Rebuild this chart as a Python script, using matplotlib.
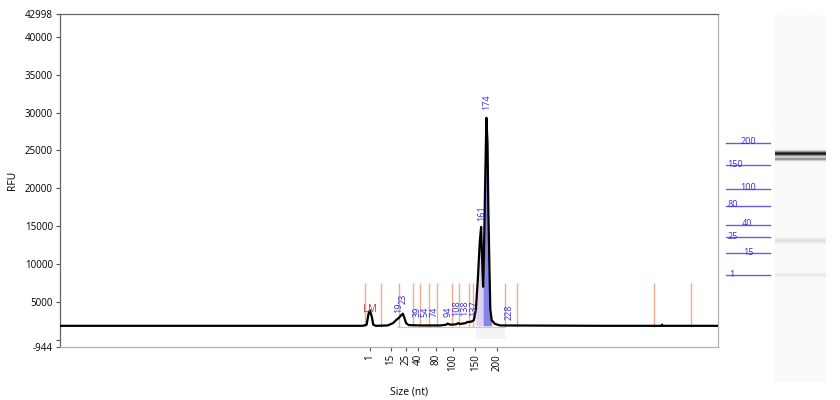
import numpy as np
import matplotlib
matplotlib.use("Agg")
import matplotlib.pyplot as plt

plt.rcParams['font.family'] = ['Open Sans', 'DejaVu Sans']

# ---- data (x = migration position, arbitrary units 0..100) ----
trace_x = [0.15, 46.0, 46.6, 46.9, 47.1, 47.4, 47.6, 48.0, 49.8, 50.6, 51.2, 51.5,
           51.8, 52.1, 52.3, 52.6, 53.0, 54.7, 57.8, 58.7, 58.9, 59.3, 60.2, 60.5,
           60.8, 61.6, 61.9, 62.5, 62.9, 63.2, 63.5, 63.8, 64.0, 64.1, 64.3, 64.4,
           64.6, 64.8, 64.97, 65.1, 65.3, 65.4, 65.6, 66.1, 66.9, 82.4, 91.4, 91.5,
           91.6, 100.0]
trace_y = [1850, 1850, 2000, 3500, 3900, 3000, 2000, 1850, 1900, 2200, 2700, 2900,
           3200, 3450, 3000, 2200, 1950, 1900, 1900, 2000, 2150, 2000, 2050, 2200,
           2100, 2200, 2350, 2400, 2600, 4000, 8000, 13000, 14900, 12000, 7000, 10000,
           20000, 29300, 26000, 17000, 8000, 4000, 2600, 2100, 1900, 1850, 1850, 2000,
           1850, 1850]

ladder_sizes = ['1', '15', '25', '40', '80', '100', '150', '200']
ladder_pos = [47.1, 50.3, 52.6, 54.4, 57.2, 59.7, 63.1, 66.4]

marker_lines = [46.35, 48.74, 51.47, 53.65, 54.71, 56.08, 57.25, 59.57, 60.64,
                62.11, 62.77, 67.63, 69.45, 90.27, 95.90]

peak_labels = ['19', '23', '39', '54', '74', '94', '108', '138', '137', '161', '174', '228']
peak_x = [51.45, 52.1, 54.26, 55.5, 56.85, 58.9, 60.3, 61.5, 62.8, 64.15, 64.9, 68.25]
peak_label_y = [3540, 4700, 3015, 3015, 3015, 3015, 3150, 3150, 3150, 15700, 30300, 2620]

lm_x, lm_y = 47.1, 4070

y_ticks = [42998, 40000, 35000, 30000, 25000, 20000, 15000, 10000, 5000, 0, -944]
y_tick_labels = ['42998', '40000', '35000', '30000', '25000', '20000', '15000',
                 '10000', '5000', '', '-944']

# gel bands: position (migration units), darkness (0..1), width
band_pos = [64.8, 64.0, 52.1, 47.1]
band_dark = [0.92, 0.45, 0.10, 0.08]
band_width = [0.22, 0.15, 0.25, 0.15]

# ---- figure ----
fig = plt.figure(figsize=(8.4, 4.0), dpi=100)
ax = fig.add_axes([60 / 840, 1 - 347 / 400, 658 / 840, 333 / 400])

tx = np.array(trace_x)
ty = np.array(trace_y)

# marker lines
ax.vlines(marker_lines, 1700, 7500, colors='#f2a98a', lw=1.0, zorder=1)
ax.hlines(1750, 51.2, 67.63, colors='#f5b8a8', lw=0.8, zorder=1)

# faint region under main peak
ax.fill_between([63.2, 67.63], -944 + 1000, 1750, color='#f4f4f6', zorder=0, lw=0)

# peak shading
m1 = (tx >= 63.2) & (tx <= 64.3)
ax.fill_between(tx[m1], 1850, ty[m1], color='#dcc6ee', alpha=0.8, lw=0, zorder=2)
m2 = (tx >= 64.3) & (tx <= 65.6)
ax.fill_between(tx[m2], 1850, ty[m2], color='#5c5ce0', alpha=0.75, lw=0, zorder=2)

ax.plot(tx, ty, color='black', lw=1.6, zorder=3)

for lab, x, y in zip(peak_labels, peak_x, peak_label_y):
    ax.text(x, y, lab, rotation=90, ha='center', va='bottom', color='#3030e0',
            fontsize=6.5, zorder=4)
ax.text(lm_x, lm_y, 'LM', color='#e03030', fontsize=7, ha='center', va='center', zorder=4)

ax.set_xlim(0, 100)
ax.set_ylim(-944, 42998)
ax.set_yticks(y_ticks)
ax.set_yticklabels(y_tick_labels, fontsize=7)
ax.set_xticks(ladder_pos)
ax.set_xticklabels(ladder_sizes, rotation=90, fontsize=7)
ax.tick_params(axis='both', length=3, width=0.8, color='#555555', pad=2)
ax.set_ylabel('RFU', fontsize=7.5)
ax.set_xlabel('Size (nt)', fontsize=7.5)
ax.yaxis.set_label_coords(-0.0635, 0.5)
ax.xaxis.set_label_coords(0.53, -0.12)
for s in ['left', 'top']:
    ax.spines[s].set_color('#666666')
for s in ['right', 'bottom']:
    ax.spines[s].set_color('#b0b0b0')
for s in ax.spines.values():
    s.set_linewidth(0.9)

# ---- gel panel ----
gx0, gx1 = 722, 830
gax = fig.add_axes([gx0 / 840, 1 - 382 / 400, (gx1 - gx0) / 840, (382 - 15) / 400])
u_top, u_bot = 84.96, 31.54
gax.set_xlim(0, 1)
gax.set_ylim(u_bot, u_top)
gax.axis('off')

ys = np.linspace(u_bot, u_top, 800)
col = np.full_like(ys, 0.02)
for p, d, w in zip(band_pos, band_dark, band_width):
    col = col + d * np.exp(-0.5 * ((ys - p) / w) ** 2)
col = np.clip(col, 0, 1)
img = np.repeat((1 - col)[:, None], 10, axis=1)
lx0 = (775 - gx0) / (gx1 - gx0)
lx1 = (826 - gx0) / (gx1 - gx0)
gax.imshow(img, cmap='gray', vmin=0, vmax=1, aspect='auto', origin='lower',
           extent=[lx0, lx1, u_bot, u_top], interpolation='bilinear')

l0 = (726 - gx0) / (gx1 - gx0)
l1 = (770 - gx0) / (gx1 - gx0)
label_x = [732, 748, 733, 747, 733, 748, 735, 748]
for lab, p, lxp in zip(ladder_sizes, ladder_pos, label_x):
    gax.plot([l0, l1], [p, p], color='#6060e0', lw=1.0)
    gax.text((lxp - gx0) / (gx1 - gx0), p + 0.15, lab, color='#3030e0', fontsize=6.5,
             ha='center', va='center')

fig.savefig('out.png', dpi=100)
